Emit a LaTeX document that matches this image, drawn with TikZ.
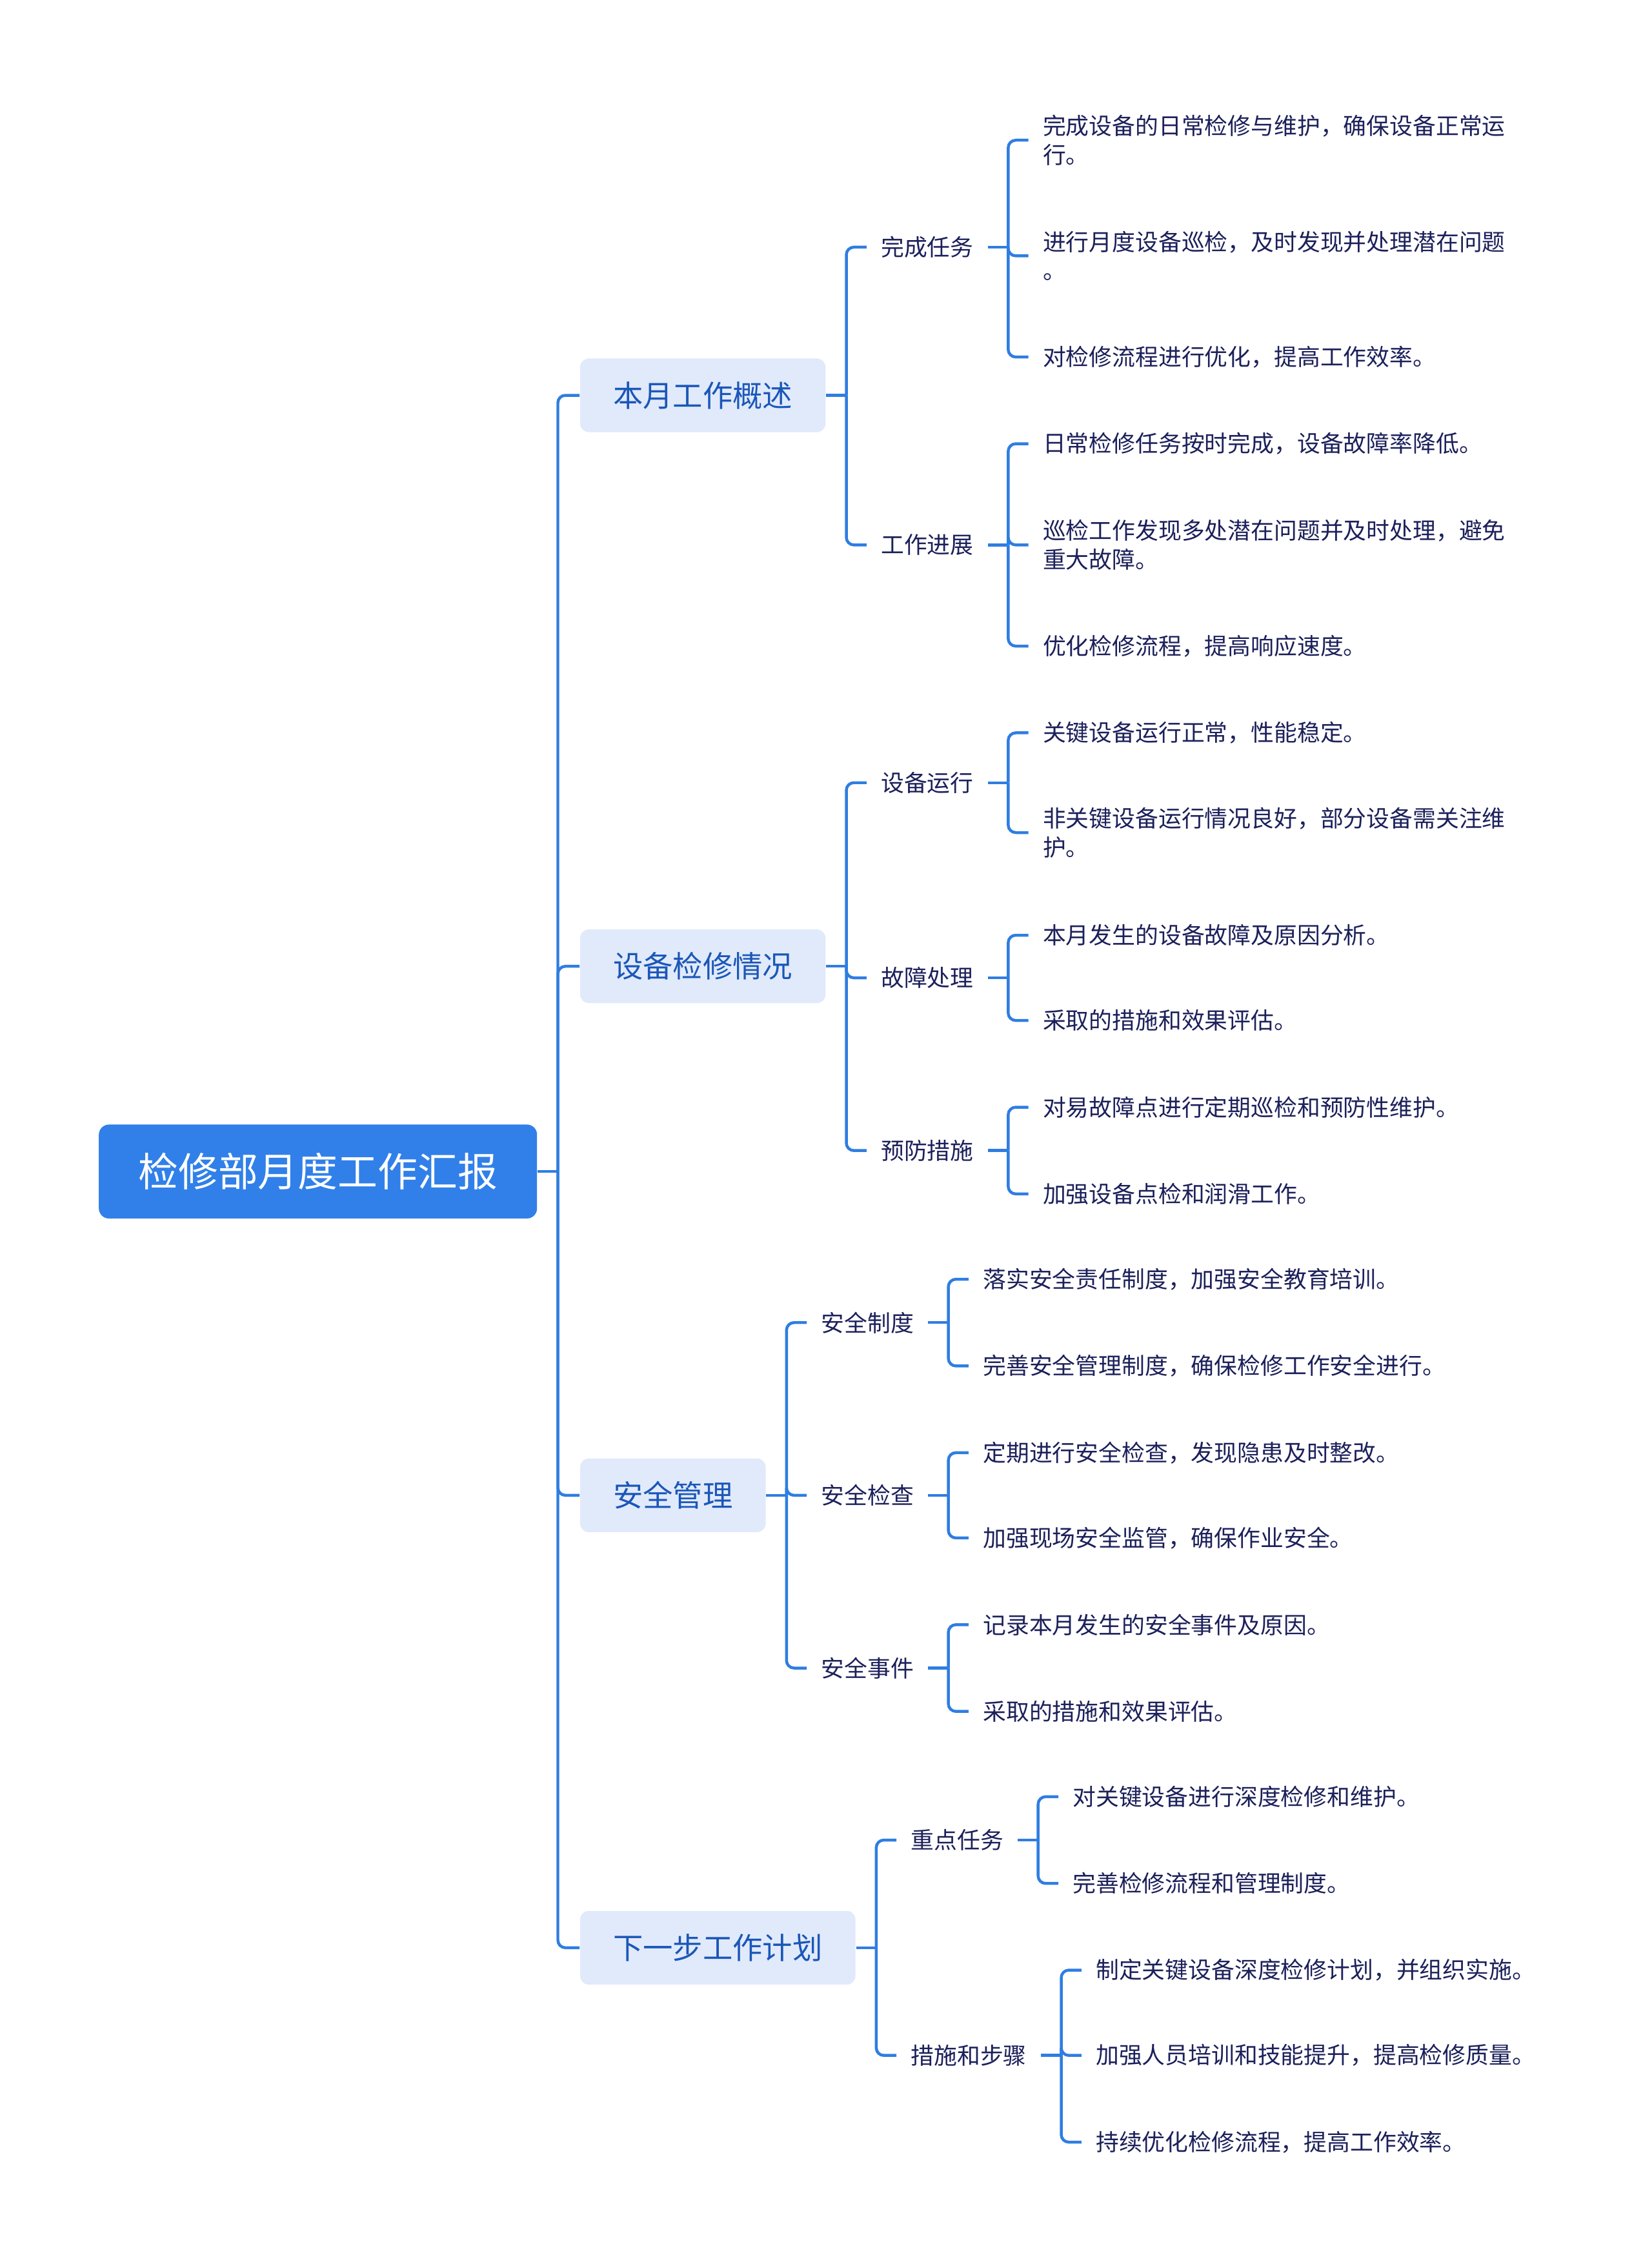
\documentclass[tikz,border=0pt]{standalone}
\usepackage{fontspec}
\setmainfont{Noto Sans CJK SC}
\definecolor{linec}{HTML}{2F7DE1}
\definecolor{rootc}{HTML}{3180E9}
\definecolor{lonefill}{HTML}{E1EAFB}
\definecolor{lonetext}{HTML}{1B57B8}
\definecolor{leafc}{HTML}{1C205A}
\begin{document}
\begin{tikzpicture}[x=0.5pt,y=-0.5pt,
  rootbox/.style={fill=rootc, text=white, rounded corners=3.5pt, minimum height=32.5pt, inner xsep=13.7pt, inner ysep=2pt, font=\fontsize{13.8}{16}\selectfont},
  lonebox/.style={fill=lonefill, text=lonetext, rounded corners=3pt, minimum height=25.5pt, inner xsep=11.4pt, inner ysep=2pt, font=\fontsize{10.35}{12}\selectfont},
  ltwo/.style={text=leafc, inner xsep=4.8pt, inner ysep=2pt, font=\fontsize{8}{10}\selectfont},
  leaf/.style={ltwo, align=left},
  conn/.style={draw=linec, line width=1pt, rounded corners=2.6pt}]
\fill[white] (0,0) rectangle (1143,1567.7);
\useasboundingbox (0,0) rectangle (1143,1567.7);

% root
\node[rootbox, anchor=west] (root) at (68,810.5) {检修部月度工作汇报};
\coordinate (rj) at (386,810.5);
\draw[conn] (root.east) -- (rj);

% level 1
\node[lonebox, anchor=west] (A) at (401,273.5) {本月工作概述};
\node[lonebox, anchor=west] (B) at (401,668.5) {设备检修情况};
\node[lonebox, anchor=west] (C) at (401,1034.5) {安全管理};
\node[lonebox, anchor=west] (D) at (401,1347.5) {下一步工作计划};
\foreach \n in {A,B,C,D} \draw[conn] (rj) |- (\n.west);

% ---- A
\draw[conn] (A.east) -- ++(14,0) coordinate (aj);
\path (A.east) ++(28,0) coordinate (ax);
\node[ltwo, anchor=west] (A1) at (ax |- 0,171) {完成任务};
\node[ltwo, anchor=west] (A2) at (ax |- 0,377) {工作进展};
\foreach \n in {A1,A2} \draw[conn] (aj) |- (\n.west);

\draw[conn] (A1.east) -- ++(14,0) coordinate (a1j);
\path (A1.east) ++(28,0) coordinate (a1x);
\node[leaf, anchor=west] (A11) at (a1x |- 0,97) {完成设备的日常检修与维护，确保设备正常运\\行。};
\node[leaf, anchor=west] (A12) at (a1x |- 0,177) {进行月度设备巡检，及时发现并处理潜在问题\\。};
\node[leaf, anchor=west] (A13) at (a1x |- 0,247) {对检修流程进行优化，提高工作效率。};
\foreach \n in {A11,A12,A13} \draw[conn] (a1j) |- (\n.west);

\draw[conn] (A2.east) -- ++(14,0) coordinate (a2j);
\path (A2.east) ++(28,0) coordinate (a2x);
\node[leaf, anchor=west] (A21) at (a2x |- 0,307) {日常检修任务按时完成，设备故障率降低。};
\node[leaf, anchor=west] (A22) at (a2x |- 0,377) {巡检工作发现多处潜在问题并及时处理，避免\\重大故障。};
\node[leaf, anchor=west] (A23) at (a2x |- 0,447) {优化检修流程，提高响应速度。};
\foreach \n in {A21,A22,A23} \draw[conn] (a2j) |- (\n.west);

% ---- B
\draw[conn] (B.east) -- ++(14,0) coordinate (bj);
\path (B.east) ++(28,0) coordinate (bx);
\node[ltwo, anchor=west] (B1) at (bx |- 0,541.5) {设备运行};
\node[ltwo, anchor=west] (B2) at (bx |- 0,676.5) {故障处理};
\node[ltwo, anchor=west] (B3) at (bx |- 0,796) {预防措施};
\foreach \n in {B1,B2,B3} \draw[conn] (bj) |- (\n.west);

\draw[conn] (B1.east) -- ++(14,0) coordinate (b1j);
\path (B1.east) ++(28,0) coordinate (b1x);
\node[leaf, anchor=west] (B11) at (b1x |- 0,507) {关键设备运行正常，性能稳定。};
\node[leaf, anchor=west] (B12) at (b1x |- 0,576) {非关键设备运行情况良好，部分设备需关注维\\护。};
\foreach \n in {B11,B12} \draw[conn] (b1j) |- (\n.west);

\draw[conn] (B2.east) -- ++(14,0) coordinate (b2j);
\path (B2.east) ++(28,0) coordinate (b2x);
\node[leaf, anchor=west] (B21) at (b2x |- 0,647) {本月发生的设备故障及原因分析。};
\node[leaf, anchor=west] (B22) at (b2x |- 0,706) {采取的措施和效果评估。};
\foreach \n in {B21,B22} \draw[conn] (b2j) |- (\n.west);

\draw[conn] (B3.east) -- ++(14,0) coordinate (b3j);
\path (B3.east) ++(28,0) coordinate (b3x);
\node[leaf, anchor=west] (B31) at (b3x |- 0,766) {对易故障点进行定期巡检和预防性维护。};
\node[leaf, anchor=west] (B32) at (b3x |- 0,826) {加强设备点检和润滑工作。};
\foreach \n in {B31,B32} \draw[conn] (b3j) |- (\n.west);

% ---- C
\draw[conn] (C.east) -- ++(14,0) coordinate (cj);
\path (C.east) ++(28,0) coordinate (cx);
\node[ltwo, anchor=west] (C1) at (cx |- 0,915) {安全制度};
\node[ltwo, anchor=west] (C2) at (cx |- 0,1034.5) {安全检查};
\node[ltwo, anchor=west] (C3) at (cx |- 0,1154) {安全事件};
\foreach \n in {C1,C2,C3} \draw[conn] (cj) |- (\n.west);

\draw[conn] (C1.east) -- ++(14,0) coordinate (c1j);
\path (C1.east) ++(28,0) coordinate (c1x);
\node[leaf, anchor=west] (C11) at (c1x |- 0,885) {落实安全责任制度，加强安全教育培训。};
\node[leaf, anchor=west] (C12) at (c1x |- 0,945) {完善安全管理制度，确保检修工作安全进行。};
\foreach \n in {C11,C12} \draw[conn] (c1j) |- (\n.west);

\draw[conn] (C2.east) -- ++(14,0) coordinate (c2j);
\path (C2.east) ++(28,0) coordinate (c2x);
\node[leaf, anchor=west] (C21) at (c2x |- 0,1005) {定期进行安全检查，发现隐患及时整改。};
\node[leaf, anchor=west] (C22) at (c2x |- 0,1064) {加强现场安全监管，确保作业安全。};
\foreach \n in {C21,C22} \draw[conn] (c2j) |- (\n.west);

\draw[conn] (C3.east) -- ++(14,0) coordinate (c3j);
\path (C3.east) ++(28,0) coordinate (c3x);
\node[leaf, anchor=west] (C31) at (c3x |- 0,1124) {记录本月发生的安全事件及原因。};
\node[leaf, anchor=west] (C32) at (c3x |- 0,1184) {采取的措施和效果评估。};
\foreach \n in {C31,C32} \draw[conn] (c3j) |- (\n.west);

% ---- D
\draw[conn] (D.east) -- ++(14,0) coordinate (dj);
\path (D.east) ++(28,0) coordinate (dx);
\node[ltwo, anchor=west] (D1) at (dx |- 0,1273) {重点任务};
\node[ltwo, anchor=west] (D2) at (dx |- 0,1422) {措施和步骤};
\foreach \n in {D1,D2} \draw[conn] (dj) |- (\n.west);

\draw[conn] (D1.east) -- ++(14,0) coordinate (d1j);
\path (D1.east) ++(28,0) coordinate (d1x);
\node[leaf, anchor=west] (D11) at (d1x |- 0,1243) {对关键设备进行深度检修和维护。};
\node[leaf, anchor=west] (D12) at (d1x |- 0,1303) {完善检修流程和管理制度。};
\foreach \n in {D11,D12} \draw[conn] (d1j) |- (\n.west);

\draw[conn] (D2.east) -- ++(14,0) coordinate (d2j);
\path (D2.east) ++(28,0) coordinate (d2x);
\node[leaf, anchor=west] (D21) at (d2x |- 0,1363) {制定关键设备深度检修计划，并组织实施。};
\node[leaf, anchor=west] (D22) at (d2x |- 0,1422) {加强人员培训和技能提升，提高检修质量。};
\node[leaf, anchor=west] (D23) at (d2x |- 0,1482) {持续优化检修流程，提高工作效率。};
\foreach \n in {D21,D22,D23} \draw[conn] (d2j) |- (\n.west);
\end{tikzpicture}
\end{document}
